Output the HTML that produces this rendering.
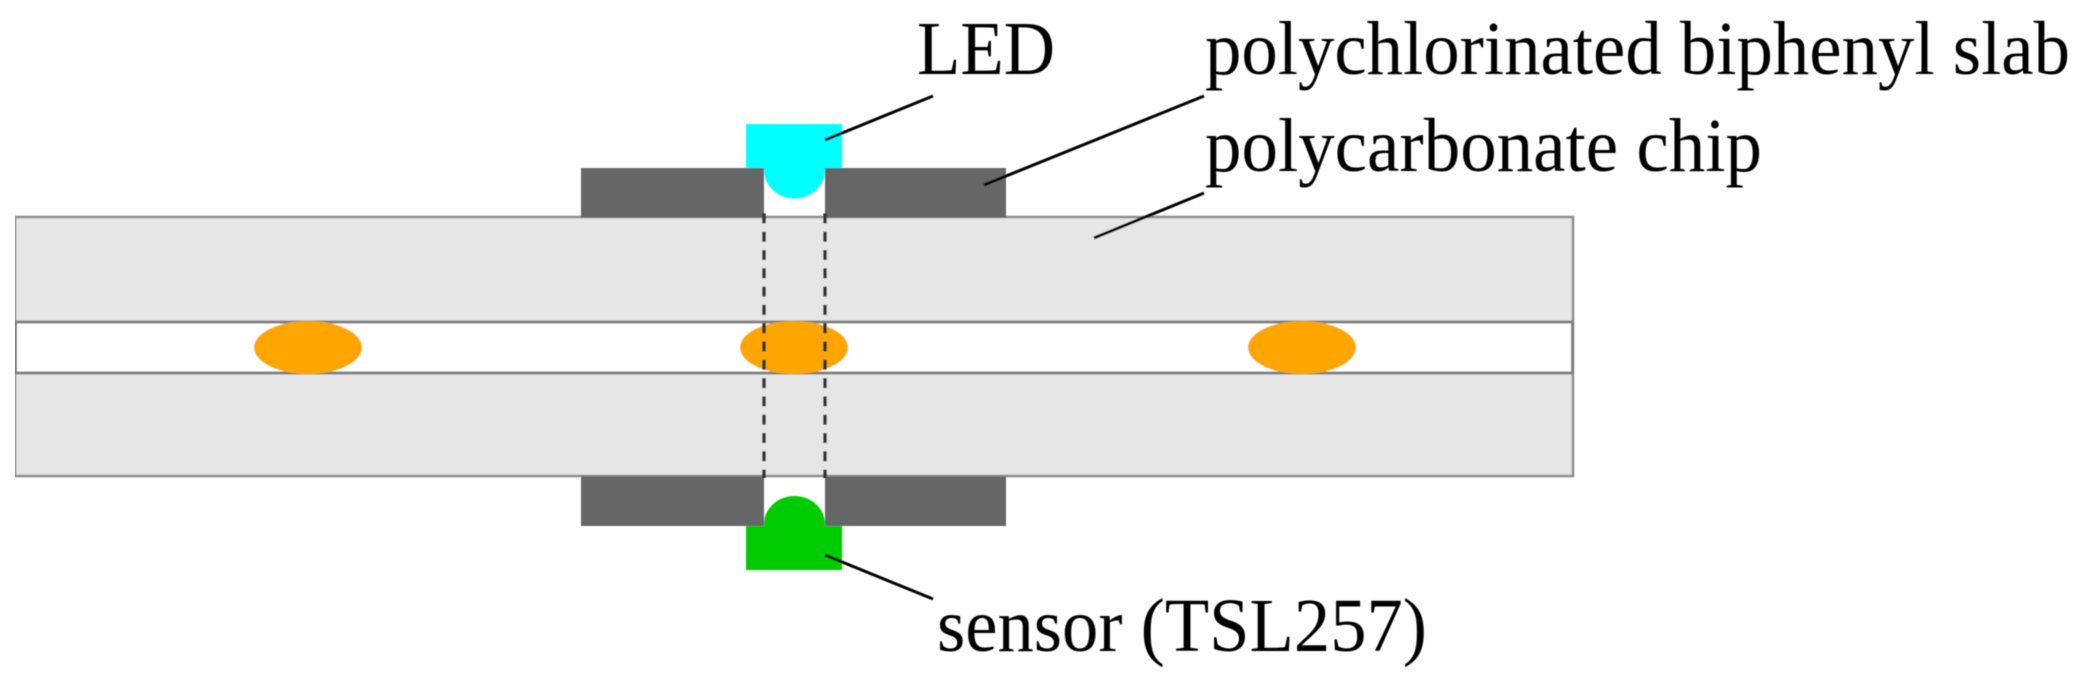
<!DOCTYPE html>
<html><head><meta charset="utf-8"><style>html,body{margin:0;padding:0;background:#fff;width:2092px;height:680px;overflow:hidden}svg{display:block}text{font-family:"Liberation Serif",serif;font-size:76px;fill:#000}</style></head>
<body><svg width="2092" height="680" viewBox="0 0 2092 680" xmlns="http://www.w3.org/2000/svg">
<defs><filter id="s" x="0" y="0" width="100%" height="100%"><feGaussianBlur stdDeviation="0.45"/></filter></defs>
<g filter="url(#s)">
<rect x="15" y="217" width="1558" height="259" fill="#e6e6e6" stroke="#8c8c8c" stroke-width="2.500"/>
<rect x="15.500" y="322" width="1557" height="51" fill="#fff" stroke="#808080" stroke-width="3"/>
<ellipse cx="308" cy="347.500" rx="54" ry="26.500" fill="#ffa500"/>
<ellipse cx="794" cy="347.500" rx="54" ry="26.500" fill="#ffa500"/>
<ellipse cx="1302" cy="347.500" rx="54" ry="26.500" fill="#ffa500"/>
<rect x="581" y="168" width="183" height="49.500" fill="#666"/>
<rect x="825" y="168" width="181" height="49.500" fill="#666"/>
<rect x="581" y="476.500" width="183" height="49.500" fill="#666"/>
<rect x="825" y="476.500" width="181" height="49.500" fill="#666"/>
<path d="M746 124H842V168H825V170A30.500 28.500 0 0 1 764 170V168H746Z" fill="#0ff"/>
<path d="M746 570H842V526H825V524A30.500 28 0 0 0 764 524V526H746Z" fill="#0c0"/>
<path d="M764 213.400V478M825 213.400V478" stroke="#333" stroke-width="3.500" stroke-dasharray="10 8.300" fill="none"/>
<g stroke="#000" stroke-width="3" fill="none">
<line x1="825" y1="140" x2="933" y2="96"/>
<line x1="984" y1="185" x2="1204" y2="96"/>
<line x1="1094" y1="238" x2="1204" y2="193"/>
<line x1="825" y1="555" x2="933" y2="599"/>
</g>
<text x="917" y="74" textLength="138" lengthAdjust="spacingAndGlyphs">LED</text>
<text x="1205" y="74" textLength="865" lengthAdjust="spacingAndGlyphs">polychlorinated biphenyl slab</text>
<text x="1205" y="171" textLength="557" lengthAdjust="spacingAndGlyphs">polycarbonate chip</text>
<text x="937" y="651" textLength="490" lengthAdjust="spacingAndGlyphs">sensor (TSL257)</text>
</g>
</svg></body></html>
